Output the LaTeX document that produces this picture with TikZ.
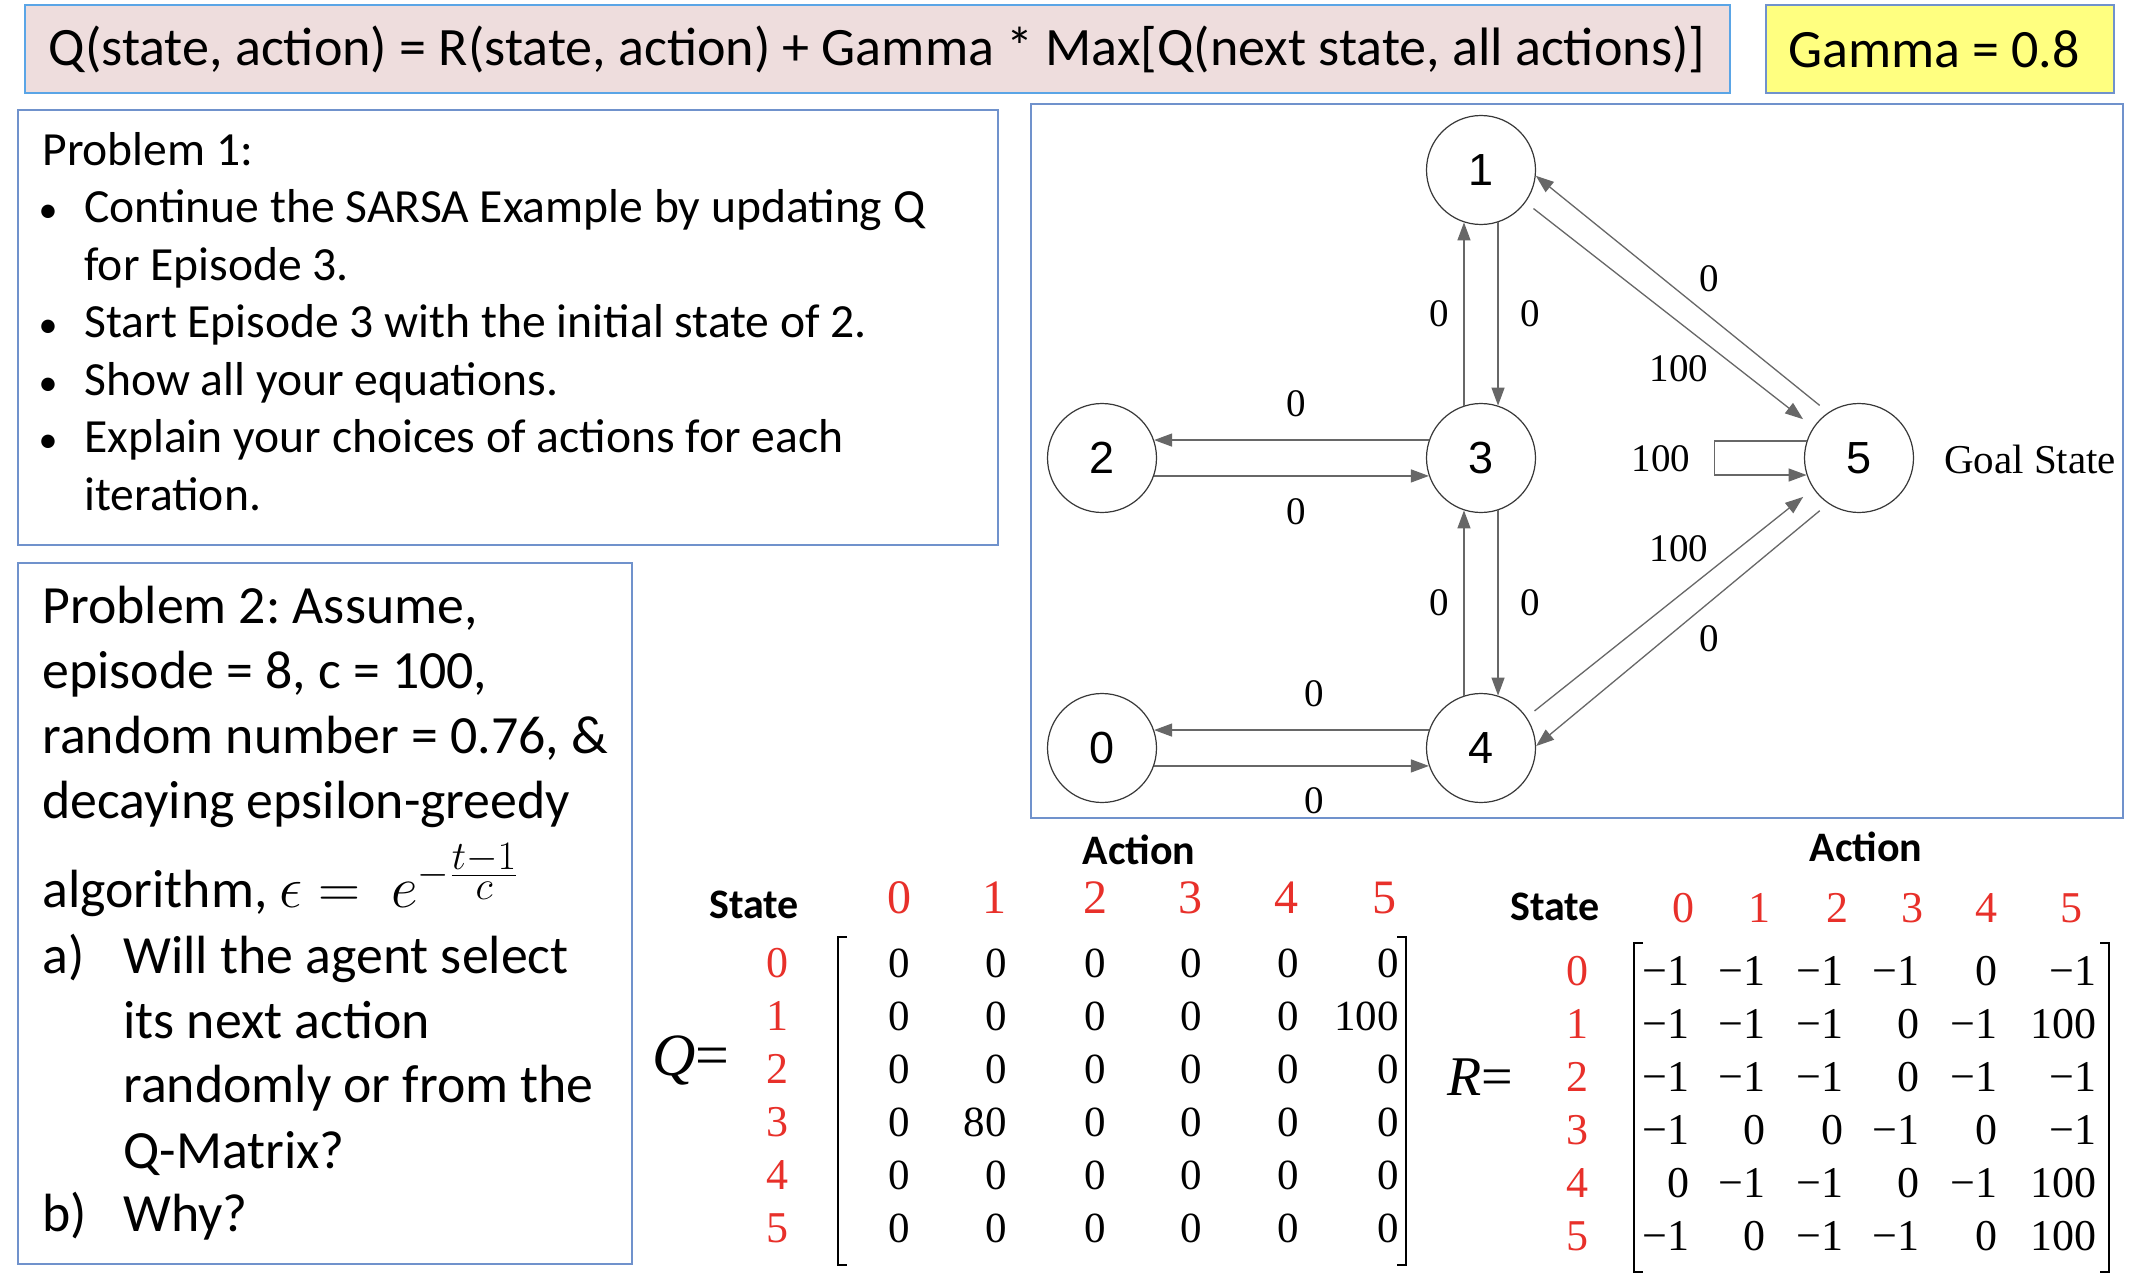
\documentclass[tikz,border=0pt]{standalone}
\usepackage{fontspec}
\usepackage{graphicx}
\setmainfont{Carlito}
\newfontfamily\tmsfont{Liberation Serif}
\newfontfamily\arlfont{Liberation Sans}
\usetikzlibrary{arrows.meta}
\definecolor{titlefill}{HTML}{EEDDDD}
\definecolor{titleline}{HTML}{5AA5E6}
\definecolor{boxline}{HTML}{7092CC}
\definecolor{gammafill}{HTML}{FFFF80}
\definecolor{edgegray}{HTML}{676767}
\definecolor{hdred}{HTML}{E8302A}
\tikzset{
  framebox/.style={draw=boxline, line width=0.8pt},
  stnode/.style={circle, draw=black!78, line width=0.6pt, minimum size=54.5pt, inner sep=0pt, font=\arlfont\fontsize{22.5}{24}\selectfont},
  tr/.style={draw=edgegray, line width=0.65pt, -{Triangle[length=9pt,width=6.5pt]}},
  elab/.style={font=\tmsfont\fontsize{19.5}{22}\selectfont, inner sep=0pt},
  pone/.style={anchor=base west, inner sep=0pt, font=\fontsize{23.8}{28}\selectfont},
  ptwo/.style={anchor=base west, inner sep=0pt, font=\fontsize{26.9}{30}\selectfont},
  bul/.style={anchor=base, inner sep=0pt, font=\fontsize{19}{26}\selectfont},
  mval/.style={anchor=base east, inner sep=0pt, font=\tmsfont\fontsize{21.5}{24}\selectfont},
  rval/.style={anchor=base east, inner sep=0pt, font=\tmsfont\fontsize{22}{24}\selectfont},
  mhead/.style={anchor=base, inner sep=0pt, text=hdred, font=\tmsfont\fontsize{24}{26}\selectfont},
  rhead/.style={anchor=base, inner sep=0pt, text=hdred, font=\tmsfont\fontsize{22}{26}\selectfont},
  mrow/.style={anchor=base, inner sep=0pt, text=hdred, font=\tmsfont\fontsize{22}{24}\selectfont},
  boldlab/.style={inner sep=0pt, font=\bfseries\fontsize{21}{24}\selectfont},
  brk/.style={line width=1.4pt},
}
\frenchspacing
\begin{document}
\begin{tikzpicture}[x=0.5pt,y=-0.5pt]
\useasboundingbox (0,0) rectangle (2142,1284);
\fill[white] (0,0) rectangle (2142,1284);

% ---------- title boxes ----------
\draw[fill=titlefill, draw=titleline, line width=1pt] (25,5) rectangle (1730,93);
\node[inner sep=0pt, font=\fontsize{27.05}{30}\selectfont] (title) at (877,49)
  {Q(state, action) = R(state, action) + Gamma * Max[Q(next state, all actions)]};
\draw[fill=gammafill, draw=boxline, line width=1pt] (1766,5) rectangle (2114,93);
\node[inner sep=0pt, font=\fontsize{27}{30}\selectfont] (gamma) at (1934,49) {Gamma = 0.8};

% ---------- problem 1 ----------
\draw[framebox] (18,110) rectangle (998,545);
\node[pone] (p1a) at (42,165) {Problem 1:};
\node[bul] (b1) at (48,222) {•};
\node[pone] (p1b) at (84,222) {Continue the SARSA Example by updating Q};
\node[pone] (p1c) at (84,280) {for Episode 3.};
\node[bul] (b2) at (48,337) {•};
\node[pone] (p1d) at (84,337) {Start Episode 3 with the initial state of 2.};
\node[bul] (b3) at (48,395) {•};
\node[pone] (p1e) at (84,395) {Show all your equations.};
\node[bul] (b4) at (48,452) {•};
\node[pone] (p1f) at (84,452) {Explain your choices of actions for each};
\node[pone] (p1g) at (84,510) {iteration.};

% ---------- problem 2 ----------
\draw[framebox] (18,563) rectangle (632,1264);
\node[ptwo] (p2a) at (42,623) {Problem 2: Assume,};
\node[ptwo] (p2b) at (42,688) {episode = 8, c = 100,};
\node[ptwo] (p2c) at (42,753) {random number = 0.76, \&};
\node[ptwo] (p2d) at (42,818) {decaying epsilon-greedy};
\node[ptwo] (p2e) at (42,907) {algorithm, \scalebox{1.17}{$\epsilon =\ e^{-\frac{\scriptstyle t-1}{\scriptstyle c}}$}};
\node[ptwo] (p2f) at (42,973) {a)};
\node[ptwo] (p2g) at (123,973) {Will the agent select};
\node[ptwo] (p2h) at (123,1038) {its next action};
\node[ptwo] (p2i) at (123,1102) {randomly or from the};
\node[ptwo] (p2j) at (123,1168) {Q-Matrix?};
\node[ptwo] (p2k) at (42,1231) {b)};
\node[ptwo] (p2l) at (123,1231) {Why?};

% ---------- graph ----------
\draw[framebox] (1031,104) rectangle (2123,818);
\node[stnode] (n1) at (1481,170) {1};
\node[stnode] (n2) at (1102,458) {2};
\node[stnode] (n3) at (1481,458) {3};
\node[stnode] (n4) at (1481,748) {4};
\node[stnode] (n0) at (1102,748) {0};
\node[stnode] (n5) at (1859,458) {5};

\draw[tr] (n3.108) -- (n1.252);
\draw[tr] (n1.288) -- (n3.72);
\draw[tr] (n4.108) -- (n3.252);
\draw[tr] (n3.288) -- (n4.72);
\draw[tr] (n3.161) -- (n2.19);
\draw[tr] (n2.-19) -- (n3.199);
\draw[tr] (n4.161) -- (n0.19);
\draw[tr] (n0.-19) -- (n4.199);
\draw[tr, shorten <=5.5pt] (n5.124) -- (n1.-6);
\draw[tr, shorten <=5pt, shorten >=6.5pt] (n1.-36) -- (n5.146);
\draw[tr, shorten <=5pt, shorten >=6.5pt] (n4.34) -- (n5.214);
\draw[tr, shorten <=5.5pt] (n5.236) -- (n4.2);
\draw[tr] (n5.162) -- ++(-92,0) |- (n5.198);

\node[elab] (l31) at (1439,314) {0};
\node[elab] (l13) at (1530,314) {0};
\node[elab] (l32) at (1296,404) {0};
\node[elab] (l23) at (1296,512) {0};
\node[elab] (l43) at (1439,603) {0};
\node[elab] (l34) at (1530,603) {0};
\node[elab] (l40) at (1314,694) {0};
\node[elab] (l04) at (1314,801) {0};
\node[elab] (l51) at (1709,279) {0};
\node[elab] (l15) at (1679,369) {100};
\node[elab] (l55) at (1661,459) {100};
\node[elab] (l45) at (1679,549) {100};
\node[elab] (l54) at (1709,639) {0};
\node[inner sep=0pt, font=\tmsfont\fontsize{20.5}{24}\selectfont] (goal) at (2030,459) {Goal State};

% ---------- Q matrix ----------
\node[boldlab] (qaction) at (1139,850) {Action};
\node[boldlab] (qstate) at (754,905) {State};
\node[inner sep=0pt, font=\tmsfont\fontsize{30}{32}\selectfont] (qeq) at (691,1060) {\itshape Q\upshape=};
\foreach \h [count=\i from 0] in {899,994,1095,1190,1286,1384}
  \node[mhead] (qh\i) at (\h,913) {\i};
\foreach \i in {0,...,5}
  \node[mrow] (qr\i) at (777,977+53*\i) {\i};
\foreach \row [count=\r from 0] in {{0,0,0,0,0,0},{0,0,0,0,0,100},{0,0,0,0,0,0},{0,80,0,0,0,0},{0,0,0,0,0,0},{0,0,0,0,0,0}}{
  \foreach \v [count=\c from 0] in \row {
    \pgfmathsetmacro{\xx}{{910,1007,1106,1202,1299,1399}[\c]}
    \node[mval] (q\r\c) at (\xx,977+53*\r) {\v};
  }
}
\draw[brk] (847,937) -- (838,937) -- (838,1265) -- (847,1265);
\draw[brk] (1397,937) -- (1406,937) -- (1406,1265) -- (1397,1265);

% ---------- R matrix ----------
\node[boldlab] (raction) at (1866,847) {Action};
\node[boldlab] (rstate) at (1555,907) {State};
\node[inner sep=0pt, font=\tmsfont\fontsize{28}{30}\selectfont] (req) at (1480,1077) {\itshape R\upshape=};
\foreach \h [count=\i from 0] in {1683,1759,1837,1912,1986,2071}
  \node[rhead] (rh\i) at (\h,922) {\i};
\foreach \i in {0,...,5}
  \node[mrow] (rr\i) at (1577,985+53*\i) {\i};
\foreach \row [count=\r from 0] in {{−1,−1,−1,−1,0,−1},{−1,−1,−1,0,−1,100},{−1,−1,−1,0,−1,−1},{−1,0,0,−1,0,−1},{0,−1,−1,0,−1,100},{−1,0,−1,−1,0,100}}{
  \foreach \v [count=\c from 0] in \row {
    \pgfmathsetmacro{\xx}{{1690,1766,1844,1920,1998,2097}[\c]}
    \node[rval] (r\r\c) at (\xx,985+53*\r) {\v};
  }
}
\draw[brk] (1643,943) -- (1634,943) -- (1634,1272) -- (1643,1272);
\draw[brk] (2100,943) -- (2109,943) -- (2109,1272) -- (2100,1272);
\end{tikzpicture}
\end{document}
